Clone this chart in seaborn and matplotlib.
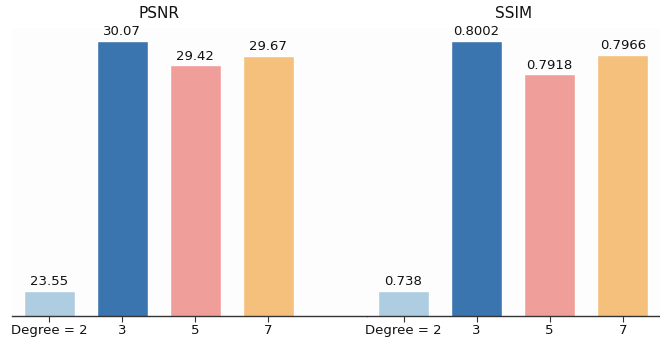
import matplotlib
matplotlib.use("Agg")
from matplotlib import pyplot as plt
import seaborn as sns

# data
degrees = ["Degree = 2", "3", "5", "7"]
psnr = [23.55, 30.07, 29.42, 29.67]
ssim = [0.738, 0.8002, 0.7918, 0.7966]
psnr_labels = ["23.55", "30.07", "29.42", "29.67"]
ssim_labels = ["0.738", "0.8002", "0.7918", "0.7966"]
colors = ["#aecde1", "#3b75af", "#ef9e9a", "#f4c07b"]

sns.set_theme(style="white")
plt.rcParams['font.family'] = ['DejaVu Sans']

W, H = 660, 341
fig = plt.figure(figsize=(W / 100, H / 100), dpi=100)

def px_axes(x0, x1, y0=28, y1=316):
    return fig.add_axes([x0 / W, 1 - y1 / H, (x1 - x0) / W, (y1 - y0) / H])

ax1 = px_axes(12, 367)
ax2 = px_axes(367, 660)

# (axes, values, labels, title, xlim, title x in axes fraction)
panels = [(ax1, psnr, psnr_labels, "PSNR", (-0.51, 4.35), 0.414),
          (ax2, ssim, ssim_labels, "SSIM", (-0.5, 3.51), 0.5)]

for ax, vals, labels, title, xl, tx in panels:
    ax.set_facecolor("#fdfdfd")
    sns.barplot(x=degrees, y=vals, hue=degrees, palette=colors, legend=False,
                width=0.7, saturation=1, ax=ax)
    for cont, lab in zip(ax.containers, labels):
        ax.bar_label(cont, labels=[lab], padding=2, fontsize=9.5, color="#111111")
    r = max(vals) - min(vals)
    ax.set_ylim(min(vals) - 0.1 * r, max(vals) + 0.05 * r)
    ax.set_xlim(*xl)
    ax.set_title(title, fontsize=11, pad=7, x=tx, color="#111111")
    ax.set_yticks([])
    ax.set_ylabel("")
    for s in ["left", "right", "top"]:
        ax.spines[s].set_visible(False)
    ax.spines["bottom"].set_color("#333333")
    ax.spines["bottom"].set_linewidth(1.0)
    ax.tick_params(axis="x", bottom=True, length=4, width=0.8, color="#333333",
                   labelsize=9.5, labelcolor="#111111", pad=2)

fig.savefig("out.png", dpi=100)
